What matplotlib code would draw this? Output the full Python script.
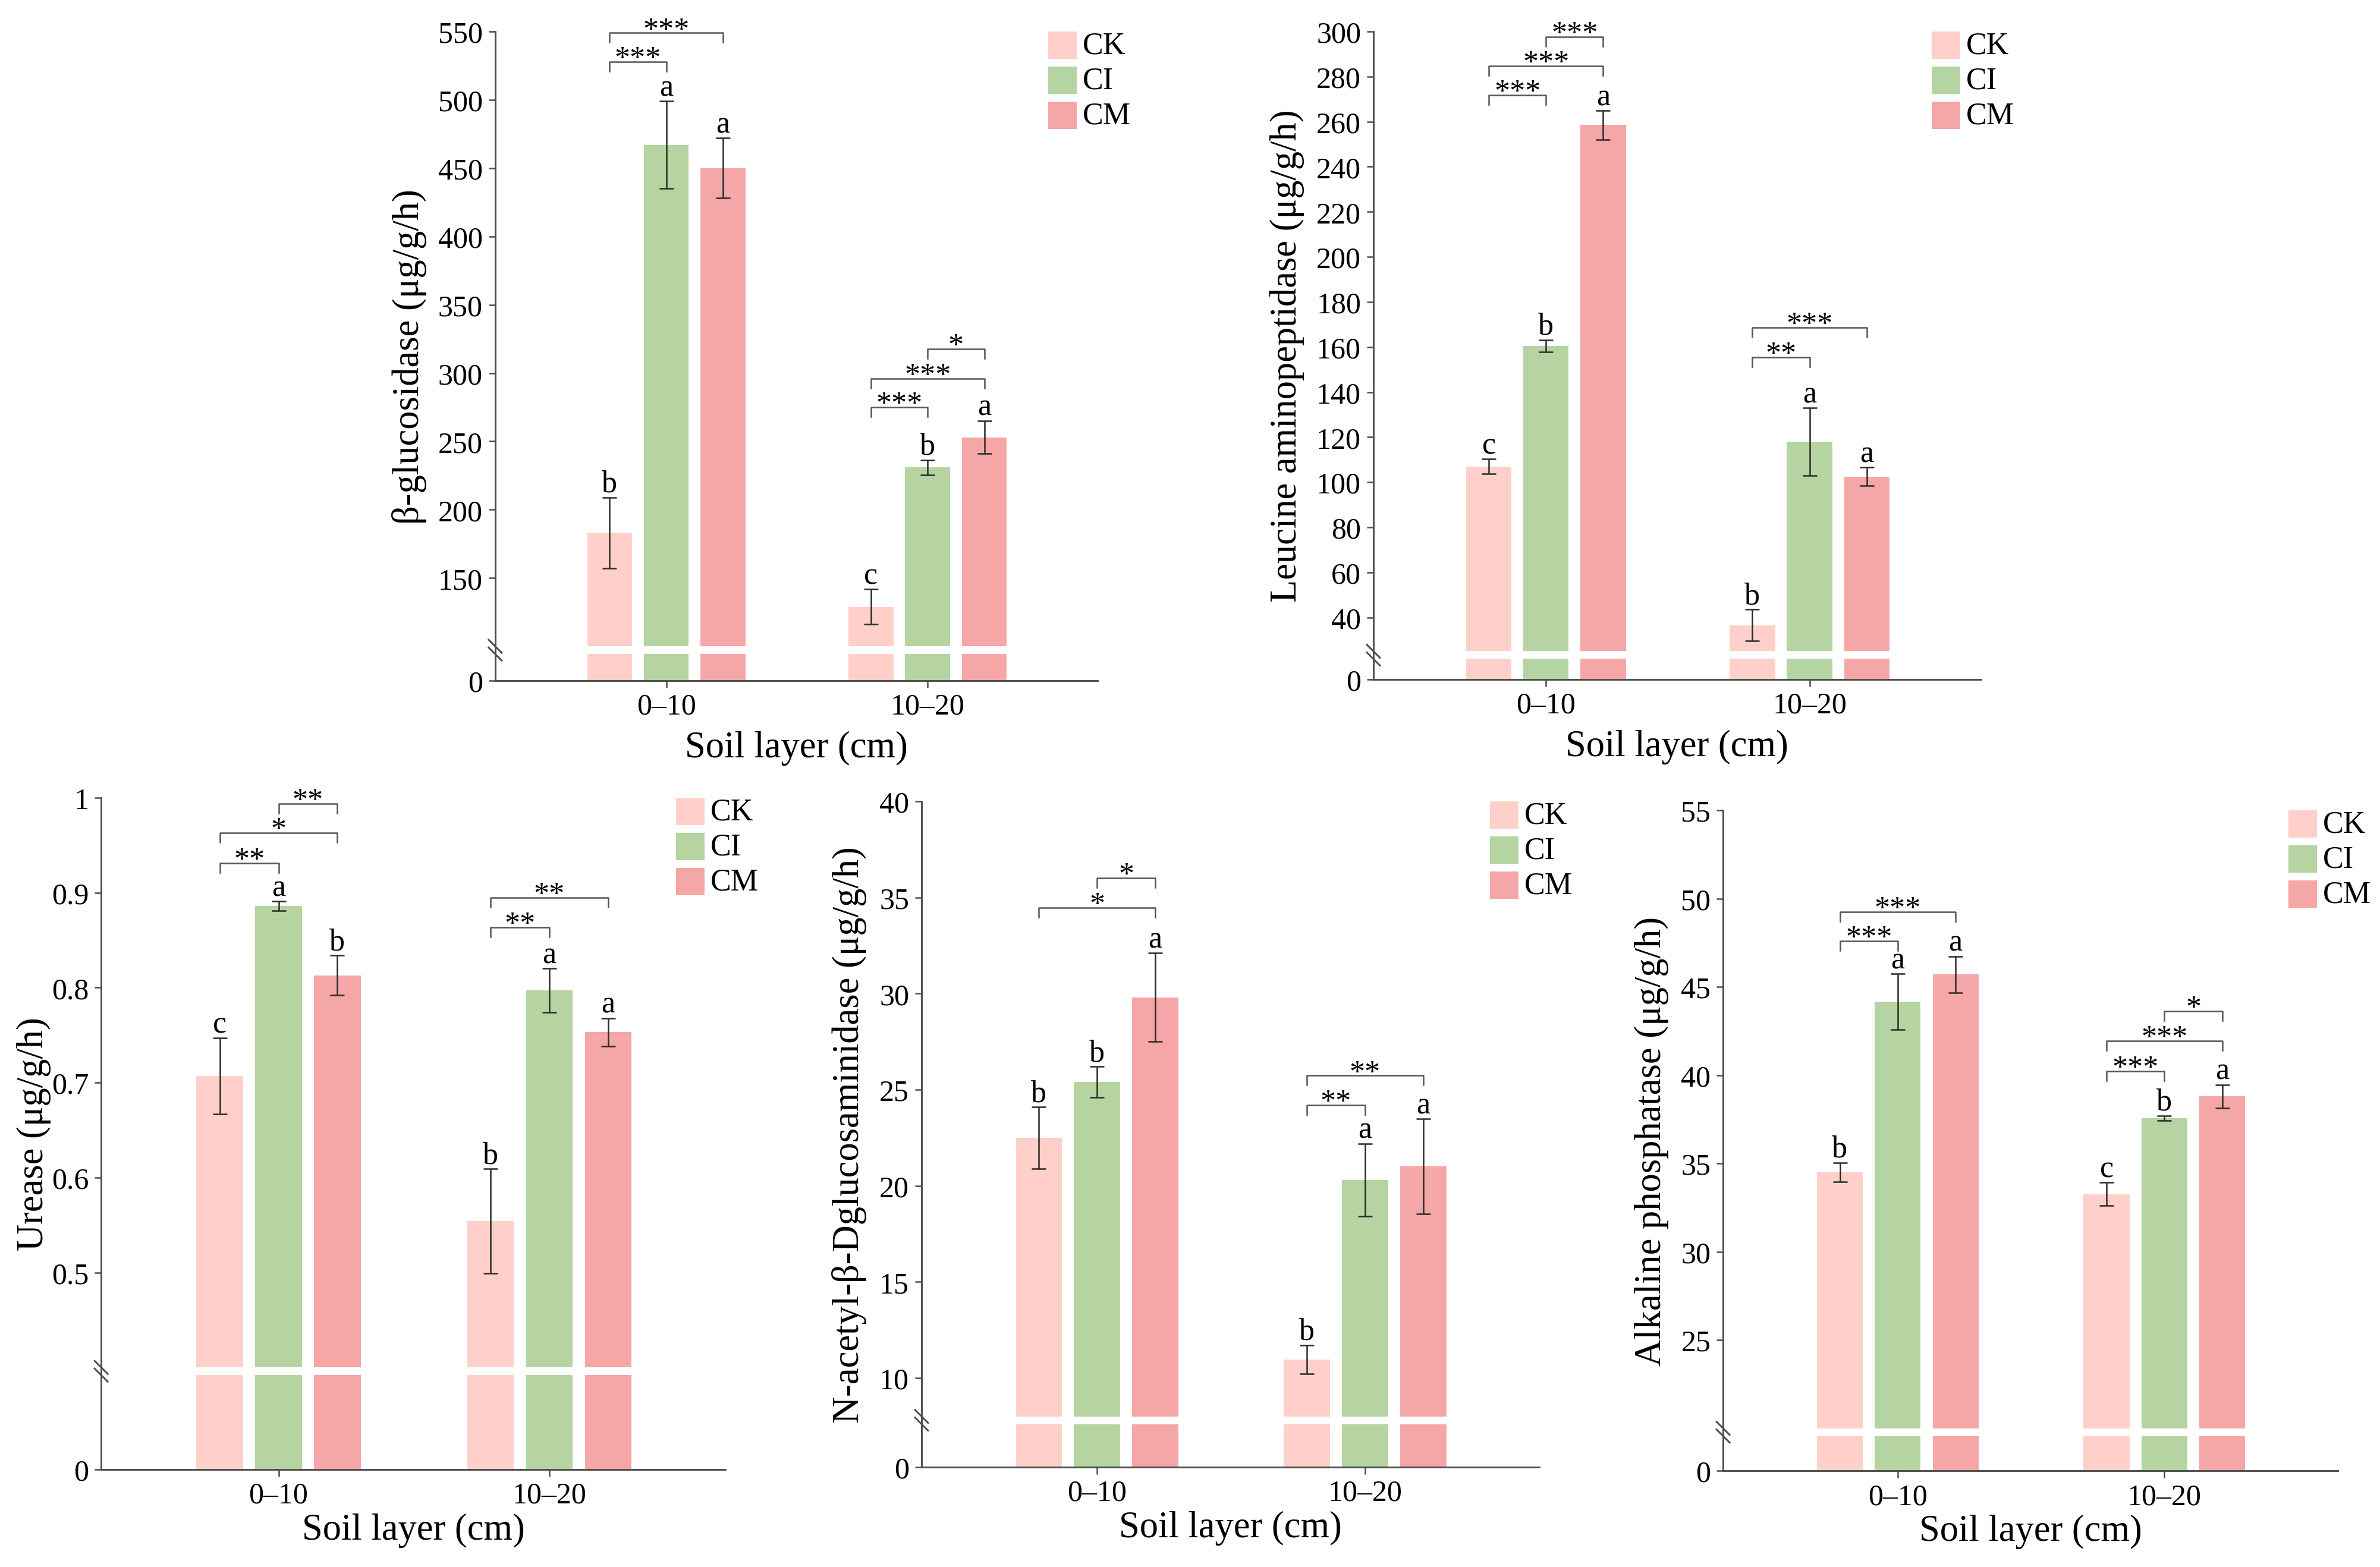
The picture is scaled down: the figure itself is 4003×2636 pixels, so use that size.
import numpy as np
import matplotlib
matplotlib.use("Agg")
import matplotlib.pyplot as plt
from matplotlib.patches import Rectangle


FIG_W, FIG_H, DPI = 4004, 2637, 300
OUTPUT_FILE = "out.png"

plt.rcParams["font.family"] = ["Liberation Serif", "DejaVu Serif"]

SPINE_COL = "#4d4d4d"
ERR_COL = "#2b2b2b"

layers = ["0–10", "10–20"]
treatments = ["CK", "CI", "CM"]
colors = ["#FFD0CA", "#B5D4A2", "#F5A6A6"]

# rows: soil layer, cols: CK, CI, CM
glu_mean = [[183, 467, 450], [129, 231, 253]]
glu_err = [[26, 32, 22], [12.7, 5.4, 12]]
glu_letters = [["b", "a", "a"], ["c", "b", "a"]]
glu_sig = [(0, 0, 1, 528, "***"), (0, 0, 2, 549, "***"),
           (1, 0, 1, 275, "***"), (1, 0, 2, 296, "***"), (1, 1, 2, 317.6, "*")]

leu_mean = [[107, 160.5, 258.5], [36.5, 118, 102.5]]
leu_err = [[3.2, 2.6, 6.4], [7, 15, 4]]
leu_letters = [["c", "b", "a"], ["b", "a", "a"]]
leu_sig = [(0, 0, 1, 271.8, "***"), (0, 0, 2, 284.7, "***"), (0, 1, 2, 297.6, "***"),
           (1, 0, 1, 155.5, "**"), (1, 0, 2, 168.6, "***")]

ure_mean = [[0.707, 0.886, 0.813], [0.554, 0.797, 0.753]]
ure_err = [[0.040, 0.005, 0.021], [0.055, 0.023, 0.015]]
ure_letters = [["c", "a", "b"], ["b", "a", "a"]]
ure_sig = [(0, 0, 1, 0.931, "**"), (0, 0, 2, 0.963, "*"), (0, 1, 2, 0.994, "**"),
           (1, 0, 1, 0.8635, "**"), (1, 0, 2, 0.895, "**")]

nag_mean = [[22.5, 25.4, 29.8], [10.95, 20.3, 21.0]]
nag_err = [[1.6, 0.8, 2.3], [0.75, 1.9, 2.47]]
nag_letters = [["b", "b", "a"], ["b", "a", "a"]]
nag_sig = [(0, 0, 2, 34.46, "*"), (0, 1, 2, 36.02, "*"),
           (1, 0, 1, 24.2, "**"), (1, 0, 2, 25.73, "**")]

alp_mean = [[34.5, 44.15, 45.7], [33.27, 37.57, 38.8]]
alp_err = [[0.55, 1.58, 1.03], [0.65, 0.13, 0.65]]
alp_letters = [["b", "a", "a"], ["c", "b", "a"]]
alp_sig = [(0, 0, 1, 47.59, "***"), (0, 0, 2, 49.26, "***"),
           (1, 0, 1, 40.24, "***"), (1, 0, 2, 41.94, "***"), (1, 1, 2, 43.63, "*")]


def piecewise(brk, fbrk, ytop):
    k_lo = fbrk / brk
    k_hi = (1 - fbrk) / (ytop - brk)

    def fwd(v):
        v = np.asarray(v, dtype=float)
        return np.where(v <= brk, v * k_lo, fbrk + (v - brk) * k_hi)

    def inv(t):
        t = np.asarray(t, dtype=float)
        return np.where(t <= fbrk, t / k_lo, brk + (t - fbrk) / k_hi)

    return fwd, inv


def draw_panel(fig, rect, mean, err, letters, sig, ylabel, yticks, yticklabels,
               brk, fbrk, ytop, label_x, xpad):
    ax = fig.add_axes(rect)
    w_px = rect[2] * FIG_W
    h_px = rect[3] * FIG_H

    fwd, inv = piecewise(brk, fbrk, ytop)
    ax.set_yscale("function", functions=(fwd, inv))

    x = np.arange(len(layers))
    offsets = [-0.217, 0.0, 0.217]
    width = 0.172

    for k in range(len(treatments)):
        vals = [mean[i][k] for i in range(len(layers))]
        errs = [err[i][k] for i in range(len(layers))]
        xs = x + offsets[k]
        ax.bar(xs, vals, width, color=colors[k], linewidth=0, zorder=1)
        ax.errorbar(xs, vals, yerr=errs, fmt="none", ecolor=ERR_COL,
                    elinewidth=0.6, capsize=2.8, capthick=0.6, zorder=3)
        for xi, v, e, i in zip(xs, vals, errs, range(len(layers))):
            ax.annotate(letters[i][k], (xi, v + e), xytext=(0, 2.4),
                        textcoords="offset points", ha="center",
                        va="baseline", fontsize=12.5)

    # white gap through the bars at the axis break
    gap = 13 / h_px
    ax.axhspan(float(inv(fbrk - gap)), brk, color="white", lw=0, zorder=2)
    dx, dy = 11 / w_px, 11 / h_px
    for yy in (fbrk - gap, fbrk):
        ax.plot([-dx, dx], [yy + dy, yy - dy], transform=ax.transAxes,
                color=SPINE_COL, lw=0.7, clip_on=False, zorder=5)

    # significance brackets
    drop = 16 / h_px
    for li, a, b, h, stars in sig:
        xa = x[li] + offsets[a]
        xb = x[li] + offsets[b]
        h_low = float(inv(fwd(h) - drop))
        ax.plot([xa, xa, xb, xb], [h_low, h, h, h_low], color="#555555",
                lw=0.6, clip_on=False, zorder=4)
        ax.annotate(stars, ((xa + xb) / 2, h), xytext=(0, -2.2),
                    textcoords="offset points", ha="center", va="baseline",
                    fontsize=12.5)

    ax.set_xlim(-0.655, 1.65)
    ax.set_ylim(0, ytop)
    ax.set_yticks(yticks)
    ax.set_yticklabels(yticklabels)
    ax.set_xticks(x)
    ax.set_xticklabels(layers)

    for side in ("top", "right"):
        ax.spines[side].set_visible(False)
    for side in ("left", "bottom"):
        ax.spines[side].set_color(SPINE_COL)
        ax.spines[side].set_linewidth(0.7)

    ax.tick_params(axis="y", direction="out", length=2.6, width=0.6,
                   pad=2.4, labelsize=12, color=SPINE_COL)
    ax.tick_params(axis="x", direction="out", length=2.9, width=0.6,
                   pad=2.0, labelsize=12, color=SPINE_COL)

    ax.set_ylabel(ylabel, fontsize=15)
    ax.yaxis.set_label_coords(label_x, 0.5)
    ax.set_xlabel("Soil layer (cm)", fontsize=15, labelpad=xpad)

    # legend
    for k, (name, col) in enumerate(zip(treatments, colors)):
        top = 1 - (k * 59) / h_px
        ax.add_patch(Rectangle((1 - 83 / w_px, top - 46 / h_px), 48 / w_px,
                               46 / h_px, transform=ax.transAxes,
                               facecolor=col, lw=0, clip_on=False))
        ax.text(1 - 25 / w_px, top - 23 / h_px, name, transform=ax.transAxes,
                ha="left", va="center", fontsize=12.5)
    return ax


fig = plt.figure(figsize=(FIG_W / DPI, FIG_H / DPI), dpi=DPI, facecolor="white")

draw_panel(fig, (0.2080, 0.5654, 0.2530, 0.4141), glu_mean, glu_err, glu_letters,
           glu_sig, "β-glucosidase (μg/g/h)",
           [0, 150, 200, 250, 300, 350, 400, 450, 500, 550],
           ["0", "150", "200", "250", "300", "350", "400", "450", "500", "550"],
           100, 0.053, 550, -0.113, 4)

draw_panel(fig, (0.5769, 0.5662, 0.2552, 0.4133), leu_mean, leu_err, leu_letters,
           leu_sig, "Leucine aminopeptidase (μg/g/h)",
           [0] + list(range(40, 301, 20)),
           ["0"] + [str(v) for v in range(40, 301, 20)],
           25, 0.0436, 300, -0.1135, 4)

draw_panel(fig, (0.0425, 0.0622, 0.2622, 0.4285), ure_mean, ure_err, ure_letters,
           ure_sig, "Urease (μg/g/h)",
           [0, 0.5, 0.6, 0.7, 0.8, 0.9, 1.0],
           ["0", "0.5", "0.6", "0.7", "0.8", "0.9", "1"],
           0.4, 0.152, 1.0, -0.080, 1.5)

draw_panel(fig, (0.3871, 0.0637, 0.2595, 0.4247), nag_mean, nag_err, nag_letters,
           nag_sig, "N-acetyl-β-Dglucosaminidase (μg/g/h)",
           [0, 10, 15, 20, 25, 30, 35, 40],
           ["0", "10", "15", "20", "25", "30", "35", "40"],
           8, 0.0763, 40, -0.0885, 1.5)

draw_panel(fig, (0.7238, 0.0614, 0.2582, 0.4213), alp_mean, alp_err, alp_letters,
           alp_sig, "Alkaline phosphatase (μg/g/h)",
           [0, 25, 30, 35, 40, 45, 50, 55],
           ["0", "25", "30", "35", "40", "45", "50", "55"],
           20, 0.0643, 55, -0.088, 1.5)

fig.savefig(OUTPUT_FILE, dpi=DPI, facecolor="white")
plt.close(fig)
